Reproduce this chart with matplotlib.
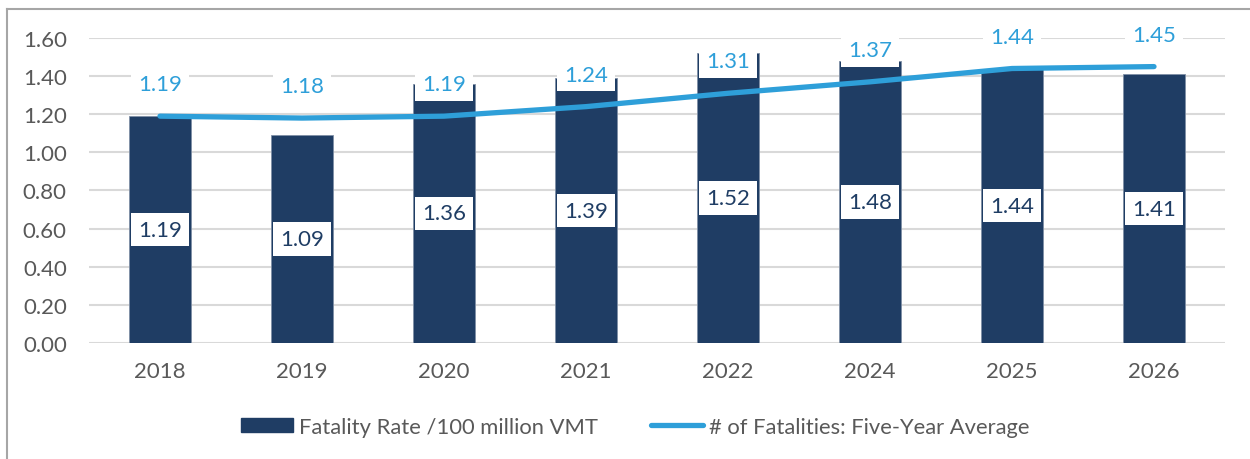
import matplotlib
matplotlib.use("Agg")
import matplotlib.pyplot as plt
from matplotlib.lines import Line2D
import numpy as np

plt.rcParams['font.family'] = ['Lato', 'DejaVu Sans']

years = ["2018", "2019", "2020", "2021", "2022", "2024", "2025", "2026"]
fatality_rate = [1.19, 1.09, 1.36, 1.39, 1.52, 1.48, 1.44, 1.41]
five_year_avg = [1.19, 1.18, 1.19, 1.24, 1.31, 1.37, 1.44, 1.45]
y_ticks = [0.0, 0.2, 0.4, 0.6, 0.8, 1.0, 1.2, 1.4, 1.6]

bar_color = "#1F3D64"
line_color = "#2E9FD9"
text_gray = "#595959"

fig = plt.figure(figsize=(12.5, 4.6), dpi=100)
ax = fig.add_axes([0.0712, 0.2522, 0.9088, 0.663])

x = np.arange(len(years))

# grid
ax.set_axisbelow(True)
ax.yaxis.grid(True, color="#D9D9D9", linewidth=1.5)
for s in ax.spines.values():
    s.set_visible(False)

bars = ax.bar(x, fatality_rate, width=0.44, color=bar_color,
              edgecolor="#7F8FA6", linewidth=0.6, zorder=2,
              label="Fatality Rate /100 million VMT")
ax.plot(x, five_year_avg, color=line_color, linewidth=3.8,
        solid_capstyle="round", zorder=3,
        label="# of Fatalities: Five-Year Average")

box = dict(boxstyle="square,pad=0.3", facecolor="white", edgecolor="none")

# bar value labels in the middle of each bar
for xi, v in zip(x, fatality_rate):
    ax.text(xi, v / 2, f"{v:.2f}", ha="center", va="center", fontsize=16,
            color=bar_color, bbox=box, zorder=4)

# line value labels above points
for xi, v in zip(x, five_year_avg):
    ax.annotate(f"{v:.2f}", (xi, v), xytext=(0, 23), textcoords="offset points",
                ha="center", va="center", fontsize=16, color=line_color,
                bbox=box, zorder=5, annotation_clip=False)

ax.set_xlim(-0.5, len(years) - 0.5)
ax.set_ylim(0, 1.6)
ax.set_yticks(y_ticks)
ax.set_yticklabels([f"{t:.2f}" for t in y_ticks])
ax.set_xticks(x)
ax.set_xticklabels(years)
ax.tick_params(axis="both", length=0, labelsize=16, labelcolor=text_gray)
ax.tick_params(axis="y", pad=16)
ax.tick_params(axis="x", pad=13)

handles = [plt.Rectangle((0, 0), 1, 1, color=bar_color),
           Line2D([0], [0], color=line_color, linewidth=3.8, solid_capstyle="round")]
labels = ["Fatality Rate /100 million VMT", "# of Fatalities: Five-Year Average"]
leg = fig.legend(handles, labels, loc="center", bbox_to_anchor=(0.508, 0.07),
                 ncol=2, frameon=False, fontsize=15.8, labelcolor=text_gray,
                 handlelength=2.4, handleheight=0.6, handletextpad=0.25,
                 columnspacing=2.4)

# chart area border (left and top edges visible)
fig.add_artist(Line2D([0.0056, 0.0056], [0, 0.978], color="#A6A6A6", linewidth=1.5,
                      transform=fig.transFigure))
fig.add_artist(Line2D([0.0056, 1.0], [0.978, 0.978], color="#A6A6A6", linewidth=1.5,
                      transform=fig.transFigure))

fig.savefig("out.png", dpi=100)
